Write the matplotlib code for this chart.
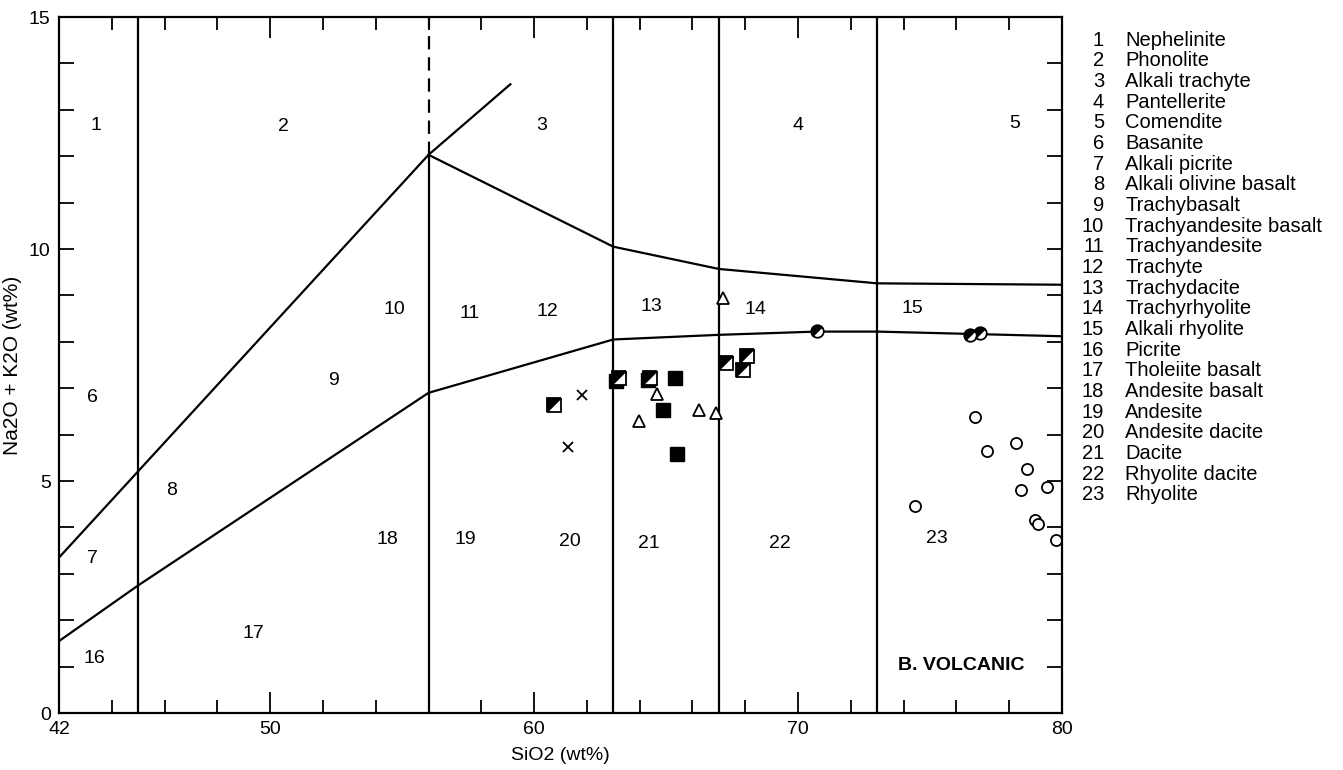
import matplotlib
matplotlib.use("Agg")
import matplotlib.pyplot as plt
from matplotlib.markers import MarkerStyle
from matplotlib.transforms import Affine2D
import numpy as np

plt.rcParams['font.family'] = ['Liberation Sans', 'DejaVu Sans']

# field boundaries (SiO2, Na2O+K2O)
upper_diag_x = [42, 56, 59.1]
upper_diag_y = [3.35, 12.03, 13.55]
lower_diag_x = [42, 45, 56, 63, 67, 70.7, 73, 80]
lower_diag_y = [1.55, 2.75, 6.9, 8.05, 8.15, 8.22, 8.22, 8.12]
cap_x = [56, 63, 67, 73, 80]
cap_y = [12.03, 10.05, 9.57, 9.26, 9.23]
div_x = [45, 63, 67, 73]
split_x = 56
split_y = 12.03

# field numbers
field_ids = [str(i) for i in range(1, 24)]
field_x = [43.4, 50.5, 60.3, 70.0, 78.2, 43.25, 43.25, 46.25, 52.4, 54.7, 57.55,
           60.5, 64.45, 68.4, 74.35, 43.35, 49.35, 54.45, 57.4, 61.35, 64.35, 69.3, 75.25]
field_y = [12.67, 12.63, 12.67, 12.67, 12.7, 6.79, 3.34, 4.8, 7.16, 8.7, 8.62,
           8.66, 8.76, 8.7, 8.72, 1.18, 1.72, 3.73, 3.73, 3.69, 3.66, 3.66, 3.76]
field_names = ["Nephelinite", "Phonolite", "Alkali trachyte", "Pantellerite", "Comendite",
               "Basanite", "Alkali picrite", "Alkali olivine basalt", "Trachybasalt",
               "Trachyandesite basalt", "Trachyandesite", "Trachyte", "Trachydacite",
               "Trachyrhyolite", "Alkali rhyolite", "Picrite", "Tholeiite basalt",
               "Andesite basalt", "Andesite", "Andesite dacite", "Dacite",
               "Rhyolite dacite", "Rhyolite"]

# samples
filled_sq_x = [63.1, 64.32, 65.35, 64.9, 65.4]
filled_sq_y = [7.16, 7.18, 7.23, 6.53, 5.58]
half_sq_x = [60.75, 63.22, 64.39, 67.28, 68.05, 67.9]
half_sq_y = [6.64, 7.23, 7.23, 7.54, 7.69, 7.39]
tri_x = [67.14, 64.66, 63.98, 66.25, 66.9]
tri_y = [8.94, 6.88, 6.3, 6.53, 6.46]
cross_x = [61.81, 61.3]
cross_y = [6.85, 5.73]
half_circ_x = [70.7, 76.53, 76.89]
half_circ_y = [8.24, 8.15, 8.18]
open_circ_x = [74.43, 76.7, 77.17, 78.27, 78.68, 78.45, 79.45, 78.97, 79.1, 79.77]
open_circ_y = [4.46, 6.37, 5.65, 5.81, 5.26, 4.8, 4.88, 4.16, 4.07, 3.73]

fig = plt.figure(figsize=(13.43, 7.70), dpi=100)
ax = fig.add_axes([59/1343, 57/770, 1003/1343, 696/770])

lw = 1.6
ax.plot(upper_diag_x, upper_diag_y, color='black', lw=lw)
ax.plot(lower_diag_x, lower_diag_y, color='black', lw=lw)
ax.plot(cap_x, cap_y, color='black', lw=lw)
ax.vlines(div_x, 0, 15, color='black', lw=lw)
ax.vlines(split_x, 0, split_y, color='black', lw=lw)
ax.vlines(split_x, split_y, 15, color='black', lw=lw, linestyles=(0, (6, 3.5)))

for t, x, y in zip(field_ids, field_x, field_y):
    ax.text(x, y, t, fontsize=14, ha='center', va='center')

ax.text(76.2, 1.03, "B. VOLCANIC", fontsize=14, fontweight='bold', ha='center', va='center')

sq_half = MarkerStyle('D', fillstyle='left', transform=Affine2D().rotate_deg(-45))
circ_half = MarkerStyle('o', fillstyle='left', transform=Affine2D().rotate_deg(-45))

ax.plot(filled_sq_x, filled_sq_y, ls='none', marker='s', ms=10.5, mfc='black', mec='black')
ax.plot(half_sq_x, half_sq_y, ls='none', marker=sq_half, ms=10.5, mfc='black',
        mfcalt='white', mec='black', mew=1.3)
ax.plot(tri_x, tri_y, ls='none', marker='^', ms=8, mfc='white', mec='black', mew=1.3)
ax.plot(cross_x, cross_y, ls='none', marker='x', ms=7, mec='black', mew=1.3)
ax.plot(half_circ_x, half_circ_y, ls='none', marker=circ_half, ms=9, mfc='black',
        mfcalt='white', mec='black', mew=1.3)
ax.plot(open_circ_x, open_circ_y, ls='none', marker='o', ms=8, mfc='white', mec='black', mew=1.3)

ax.set_xlim(42, 80)
ax.set_ylim(0, 15)
ax.set_xticks([42, 50, 60, 70, 80])
ax.set_xticks(np.arange(44, 80, 2), minor=True)
ax.set_yticks([0, 5, 10, 15])
ax.set_yticks(np.arange(1, 15, 1), minor=True)
ax.tick_params(which='both', direction='in', top=True, right=True, width=1.3,
               labelsize=14, pad=6)
ax.tick_params(axis='x', which='major', length=15)
ax.tick_params(axis='x', which='minor', length=9.5)
ax.tick_params(axis='y', which='both', length=11)
for s in ax.spines.values():
    s.set_linewidth(1.6)

ax.set_xlabel("SiO2 (wt%)", fontsize=14)
ax.set_ylabel("Na2O + K2O (wt%)", fontsize=15)
ax.yaxis.set_label_coords(-37/1003, 0.5)
ax.xaxis.set_label_coords(0.5, -34/696)

# legend of field names
for i, (t, name) in enumerate(zip(field_ids, field_names)):
    py = 40 + i * 20.68
    fig.text(1104/1343, 1 - py/770, t, fontsize=14.5, ha='right', va='center')
    fig.text(1125/1343, 1 - py/770, name, fontsize=14.5, ha='left', va='center')

fig.savefig("out.png", dpi=100)
